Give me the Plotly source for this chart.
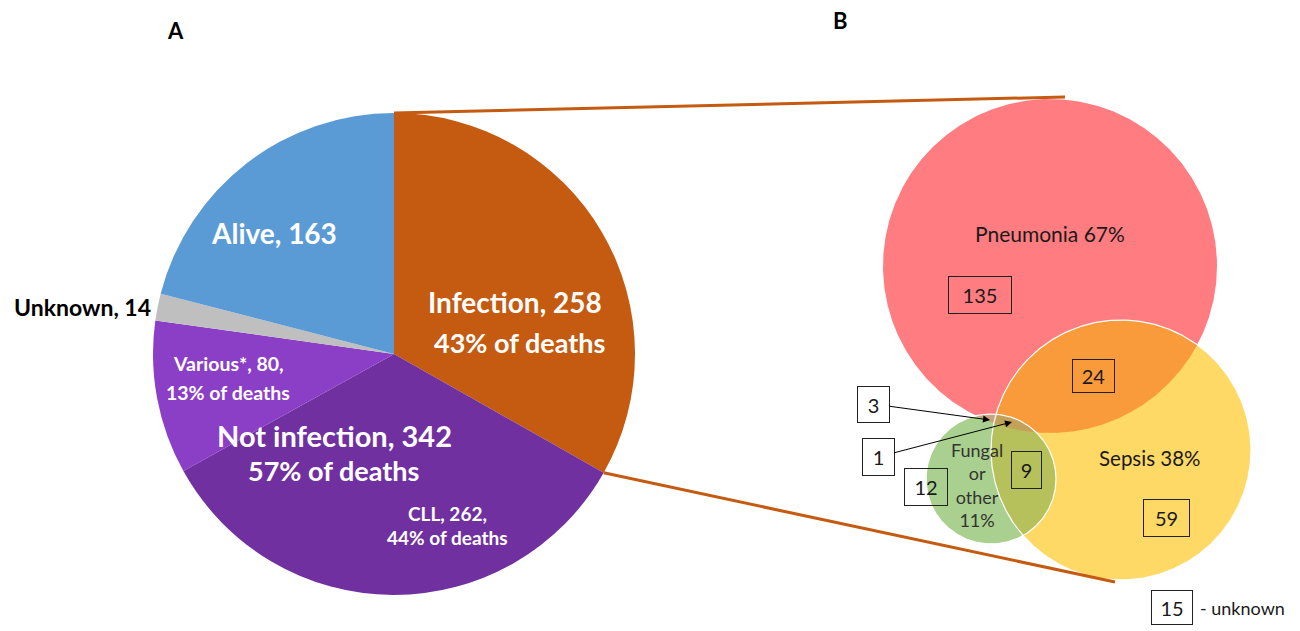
import numpy as np
import plotly.graph_objects as go

# ---------------- data ----------------
pie_labels = ["Infection", "CLL", "Various*", "Unknown", "Alive"]
pie_values = [258, 262, 80, 14, 163]
pie_colors = ["#C55A11", "#7030A0", "#8B3EC6", "#BFBFBF", "#5B9BD5"]

venn_sets = ["Pneumonia", "Sepsis", "Fungal<br>or<br>other"]
venn_pct = [67, 38, 11]
count_pneumonia_only = 135
count_pneumonia_sepsis = 24
count_sepsis_only = 59
count_fungal_only = 12
count_fungal_sepsis = 9
count_pneumonia_fungal = 3
count_all_three = 1
count_unknown = 15

# ---------------- layout helpers ----------------
W, H = 1300, 631
FONT = "Lato, 'Open Sans', sans-serif"
CX, CY, R = 394, 354, 241          # pie centre / radius in pixels

fig = go.Figure()

fig.add_trace(go.Pie(
    values=pie_values, labels=pie_labels, sort=False,
    direction="clockwise", rotation=0,
    marker=dict(colors=pie_colors, line=dict(width=0)),
    textinfo="none", hoverinfo="label+value", showlegend=False,
    domain=dict(x=[(CX - R) / W, (CX + R) / W],
                y=[1 - (CY + R) / H, 1 - (CY - R) / H]),
))

# Venn circles (centre x, centre y, radius) in pixel coords
circles = {
    "P": (1050, 266, 167),
    "S": (1121, 450, 130),
    "F": (991, 479, 65),
}
circ_colors = {"P": "#FF7C80", "S": "#FFD966", "F": "#A9D08E"}


def circle_pts(c, n=720):
    x0, y0, r = c
    t = np.linspace(0, 2 * np.pi, n)
    return x0 + r * np.cos(t), y0 + r * np.sin(t)


def inside(px, py, c):
    x0, y0, r = c
    return (px - x0) ** 2 + (py - y0) ** 2 <= r ** 2 + 1e-6


def intersection(keys, n=3000):
    xs, ys = [], []
    for k in keys:
        px, py = circle_pts(circles[k], n)
        m = np.ones_like(px, dtype=bool)
        for o in keys:
            if o != k:
                m &= inside(px, py, circles[o])
        xs.append(px[m]); ys.append(py[m])
    xs = np.concatenate(xs); ys = np.concatenate(ys)
    cx, cy = xs.mean(), ys.mean()
    order = np.argsort(np.arctan2(ys - cy, xs - cx))
    xs, ys = xs[order], ys[order]
    return np.append(xs, xs[0]), np.append(ys, ys[0])


def poly(x, y, color, line_color=None, lw=0):
    fig.add_trace(go.Scatter(
        x=x, y=y, mode="lines", fill="toself", fillcolor=color,
        line=dict(color=line_color or color, width=lw),
        hoverinfo="skip", showlegend=False))


for k in ["P", "S", "F"]:
    x, y = circle_pts(circles[k])
    poly(x, y, circ_colors[k])

for keys, col in [(("P", "S"), "#F99B3B"), (("S", "F"), "#B6C15C"),
                  (("P", "F"), "#C9A27E"), (("P", "S", "F"), "#C2A258")]:
    x, y = intersection(keys)
    poly(x, y, col)

# white outlines on sepsis and fungal circles
for k in ["S", "F"]:
    x, y = circle_pts(circles[k])
    fig.add_trace(go.Scatter(x=x, y=y, mode="lines",
                             line=dict(color="white", width=1.2),
                             hoverinfo="skip", showlegend=False))

# ---------------- connecting lines ----------------
ang = 2 * np.pi * pie_values[0] / sum(pie_values)
top_pt = (CX, CY - R)
split_pt = (CX + R * np.sin(ang), CY - R * np.cos(ang))
fig.add_shape(type="line", x0=top_pt[0], y0=top_pt[1], x1=1065, y1=97,
              line=dict(color="#C55A11", width=3), xref="x", yref="y")
fig.add_shape(type="line", x0=split_pt[0], y0=split_pt[1], x1=1115, y1=582,
              line=dict(color="#C55A11", width=3), xref="x", yref="y")

# ---------------- texts ----------------
def txt(x, y, text, size, color="white", bold=True, xanchor="center"):
    fig.add_annotation(x=x, y=y, text=f"<b>{text}</b>" if bold else text,
                       showarrow=False, xanchor=xanchor, yanchor="middle",
                       font=dict(family=FONT, size=size, color=color))


deaths = pie_values[0] + pie_values[1] + pie_values[2]
pct_inf = round(100 * pie_values[0] / deaths)
pct_var = round(100 * pie_values[2] / deaths)
pct_cll = round(100 * pie_values[1] / deaths)
not_inf = pie_values[1] + pie_values[2]

txt(175, 30, "A", 22, "black")
txt(840, 20, "B", 22, "black")
txt(274, 233, f"{pie_labels[4]}, {pie_values[4]}", 28)
txt(82, 307, f"{pie_labels[3]}, {pie_values[3]}", 23, "black")
txt(515, 302, f"{pie_labels[0]}, {pie_values[0]}", 28)
txt(519, 342, f"{pct_inf}% of deaths", 27)
txt(228, 363, f"{pie_labels[2]}, {pie_values[2]},", 19.5)
txt(228, 392, f"{pct_var}% of deaths", 19.5)
txt(334, 435, f"Not infection, {not_inf}", 29)
txt(333, 470, f"{100 - pct_inf}% of deaths", 27)
txt(447, 513, f"{pie_labels[1]}, {pie_values[1]},", 19)
txt(447, 537, f"{pct_cll}% of deaths", 19)

txt(1050, 233, f"{venn_sets[0]} {venn_pct[0]}%", 21, "#1a1a1a", bold=False)
txt(1150, 458, f"{venn_sets[1]} {venn_pct[1]}%", 20.5, "#1a1a1a", bold=False)
txt(977, 485, f"{venn_sets[2]}<br>{venn_pct[2]}%", 18, "#333333", bold=False)


def box(x, y, text, w, h, tip=None):
    kw = dict(showarrow=False)
    if tip is not None:
        kw = dict(showarrow=True, x=tip[0], y=tip[1], ax=x, ay=y,
                  axref="x", ayref="y", arrowhead=2, arrowsize=1.4,
                  arrowwidth=1, arrowcolor="black", standoff=0)
    else:
        kw.update(x=x, y=y)
    fig.add_annotation(text=str(text), width=w - 2, height=h - 2,
                       bordercolor="#222222", borderwidth=1, borderpad=0,
                       align="center", valign="middle",
                       font=dict(family=FONT, size=20, color="#1a1a1a"), **kw)


box(980, 295, count_pneumonia_only, 64, 38)
box(1093, 376, count_pneumonia_sepsis, 43, 34)
box(1166, 518, count_sepsis_only, 47, 38)
box(926, 487, count_fungal_only, 44, 38)
box(1026, 470, count_fungal_sepsis, 31, 38)
box(873, 404, count_pneumonia_fungal, 33, 37, tip=(990, 420))
box(878, 457, count_all_three, 33, 38, tip=(1012, 422))
box(1172, 607, count_unknown, 42, 35)
txt(1198, 608, "- unknown", 18, "#1a1a1a", bold=False, xanchor="left")

fig.update_layout(
    width=W, height=H, margin=dict(l=0, r=0, t=0, b=0),
    paper_bgcolor="white", plot_bgcolor="white",
    xaxis=dict(range=[0, W], visible=False, fixedrange=True),
    yaxis=dict(range=[H, 0], visible=False, fixedrange=True),
    showlegend=False,
)

fig.write_html("out.html",
               config={"displayModeBar": False},
               post_script="document.body.style.margin='0';"
                           "document.body.style.overflow='hidden';")
